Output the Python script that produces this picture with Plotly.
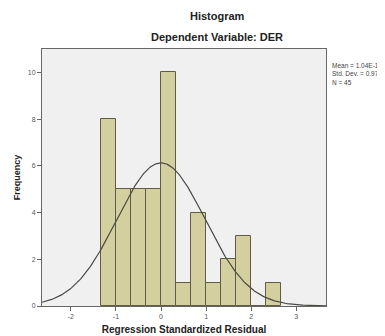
import numpy as np
import plotly.graph_objects as go

# Histogram bins (bin centers) and counts
bin_centers = [-1.1667, -0.8333, -0.5, -0.1667, 0.1667, 0.5, 0.8333, 1.1667, 1.5, 1.8333, 2.1667, 2.5]
counts = [8, 5, 5, 5, 10, 1, 4, 1, 2, 3, 0, 1]
bin_width = 1 / 3

# Summary statistics shown in the chart
mean_val = 1.04e-16
std_dev = 0.977
n_obs = 45

x_ticks = [-2, -1, 0, 1, 2, 3]
y_ticks = [0, 2, 4, 6, 8, 10]

# Normal curve defined by the displayed statistics
xs = np.linspace(-2.64, 3.66, 300)
ys = n_obs * bin_width / (std_dev * np.sqrt(2 * np.pi)) * np.exp(-0.5 * ((xs - mean_val) / std_dev) ** 2)

# page has an 8px body margin; compensate so the plot sits where the reference has it
OFF = 8
W, H = 385 - OFF, 336 - OFF
L, T = 42 - OFF, 49 - OFF
plot_w, plot_h = 284, 257
R = W - L - plot_w
B = H - T - plot_h


def px_x(px):
    return (px - OFF - L) / plot_w


def px_y(py):
    return (T + plot_h - (py - OFF)) / plot_h


fig = go.Figure()
fig.add_trace(go.Bar(
    x=bin_centers, y=counts, width=bin_width,
    marker=dict(color="#d4cf9e", line=dict(color="#5e5b48", width=1)),
    showlegend=False, hoverinfo="skip",
))
fig.add_trace(go.Scatter(
    x=xs, y=ys, mode="lines",
    line=dict(color="#4a4a44", width=1.2),
    showlegend=False, hoverinfo="skip",
))

font_family = "Liberation Sans, Arial, sans-serif"

fig.update_layout(
    width=W, height=H,
    margin=dict(l=L, r=R, t=T, b=B, autoexpand=False),
    paper_bgcolor="white",
    plot_bgcolor="#f0f0f0",
    font=dict(family=font_family, size=8, color="#333"),
    bargap=0,
    xaxis=dict(
        range=[-2.64, 3.66], tickvals=x_ticks, ticktext=[str(v) for v in x_ticks],
        showgrid=False, zeroline=False, showline=True, linecolor="#666", linewidth=1, mirror=True,
        ticks="outside", ticklen=4, tickcolor="#666", tickfont=dict(size=7, color="#555"),
        automargin=False,
        title=dict(text="<b>Regression Standardized Residual</b>", font=dict(size=10, color="#222"), standoff=6),
    ),
    yaxis=dict(
        range=[0, 11], tickvals=y_ticks, ticktext=[str(v) for v in y_ticks],
        showgrid=False, zeroline=False, showline=True, linecolor="#666", linewidth=1, mirror=True,
        ticks="outside", ticklen=4, tickcolor="#666", tickfont=dict(size=7, color="#555"),
        automargin=False,
        title=dict(text="<b>Frequency</b>", font=dict(size=9, color="#222"), standoff=5),
    ),
    annotations=[
        dict(text="<b>Histogram</b>", x=px_x(217), y=px_y(16), xref="paper", yref="paper",
             xanchor="center", yanchor="middle",
             showarrow=False, font=dict(size=11, color="#222")),
        dict(text="<b>Dependent Variable: DER</b>", x=px_x(217), y=px_y(37), xref="paper", yref="paper",
             xanchor="center", yanchor="middle",
             showarrow=False, font=dict(size=11, color="#222")),
        dict(text="Mean = 1.04E-16<br>Std. Dev. = 0.977<br>N = 45", x=px_x(330), y=px_y(60),
             xref="paper", yref="paper", xanchor="left", yanchor="top",
             align="left", showarrow=False, font=dict(size=6.5, color="#444")),
    ],
)

fig.write_html("out.html")
